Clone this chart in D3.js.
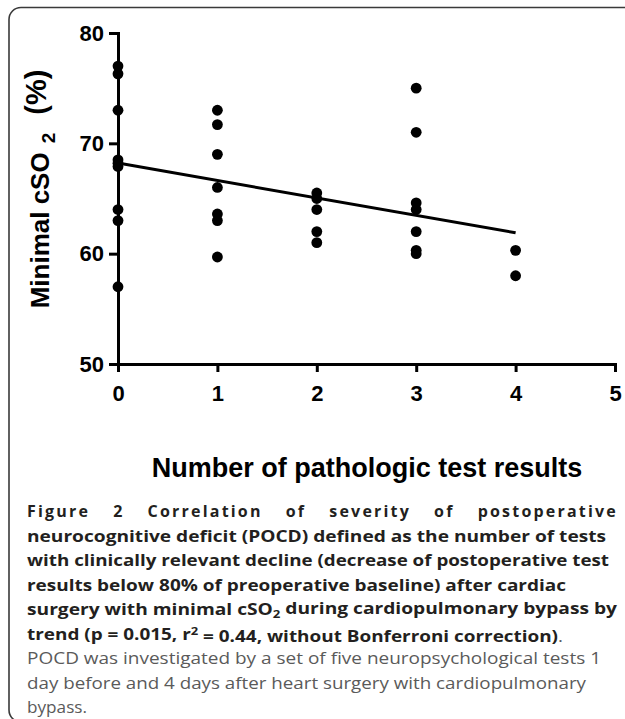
<!DOCTYPE html>
<html>
<meta charset="utf-8">
<head>
<title>minimal cSO2 vs POCD</title>
	<script src="https://d3js.org/d3.v7.min.js"></script>
	<style>
		body { margin: 0; background: #fff; }
		svg { display: block; }
	</style>
</head>

<body>
	<div id="plot"></div>
</body>

<script>

// number of pathologic tests per group and the minimal cSO2 values (%)
var testCounts = [0, 1, 2, 3, 4];
var cso2_0 = [77.0, 76.3, 73.0, 68.5, 68.2, 67.9, 64.0, 63.0, 57.0];
var cso2_1 = [73.0, 71.7, 69.0, 66.0, 63.6, 63.0, 59.7];
var cso2_2 = [65.5, 65.0, 64.0, 62.0, 61.0];
var cso2_3 = [75.0, 71.0, 64.6, 64.0, 62.0, 60.3, 60.0];
var cso2_4 = [60.3, 58.0];
var groups = [cso2_0, cso2_1, cso2_2, cso2_3, cso2_4];

var xTicks = [0, 1, 2, 3, 4, 5];
var yTicks = [50, 60, 70, 80];

// caption lines as they wrap in the figure
var captionLines = [
	[{t: "Figure 2 Correlation of severity of postoperative"}],
	[{t: "neurocognitive deficit (POCD) defined as the number of tests"}],
	[{t: "with clinically relevant decline (decrease of postoperative test"}],
	[{t: "results below 80% of preoperative baseline) after cardiac"}],
	[{t: "surgery with minimal cSO"}, {t: "2", sub: true}, {t: " during cardiopulmonary bypass by"}],
	[{t: "trend (p = 0.015, r"}, {t: "2", sup: true}, {t: " = 0.44, without Bonferroni correction)"}, {t: ".", light: true}],
	[{t: "POCD was investigated by a set of five neuropsychological tests 1", light: true}],
	[{t: "day before and 4 days after heart surgery with cardiopulmonary", light: true}],
	[{t: "bypass.", light: true}]
];
var captionRight = [618, 606, 609, 566, 617, 563, 601, 586, 87];

var points = [];
groups.forEach(function(g, i){
	g.forEach(function(v){ points.push({x: testCounts[i], y: v}); });
});

var width = 625, height = 719;

var svg = d3.select("#plot").append("svg")
		.attr("width", width)
		.attr("height", height);

// frame with rounded left corners
svg.append("path")
	.attr("d", "M626,7.5 H21 A12,12 0 0 0 9,19.5 V710 A12,12 0 0 0 21,722")
	.attr("fill", "none")
	.attr("stroke", "#3a3a3a")
	.attr("stroke-width", 1.6);

var xScale = d3.scaleLinear().domain([0, 5]).range([118, 615]);
var yScale = d3.scaleLinear().domain([50, 80]).range([364, 33]);

var xAxis = d3.axisBottom(xScale).tickValues(xTicks).tickSize(8).tickSizeOuter(0).tickPadding(13).tickFormat(d3.format("d"));
var yAxis = d3.axisLeft(yScale).tickValues(yTicks).tickSize(9).tickSizeOuter(0).tickPadding(5);

var gx = svg.append("g")
	.attr("transform", "translate(0," + yScale(50) + ")")
	.call(xAxis);

var gy = svg.append("g")
	.attr("transform", "translate(" + xScale(0) + ",0)")
	.call(yAxis);

[gx, gy].forEach(function(g){
	g.selectAll("path, line").attr("stroke", "#000").attr("stroke-width", 3);
	g.select(".domain").attr("stroke-linecap", "square");
	g.selectAll("text")
		.attr("fill", "#000")
		.style("font-family", "'Liberation Sans', Arial, sans-serif")
		.style("font-weight", "bold")
		.style("font-size", "22px");
});

// least squares trend line over the data
var mx = d3.mean(points, function(d){ return d.x; });
var my = d3.mean(points, function(d){ return d.y; });
var sxy = d3.sum(points, function(d){ return (d.x - mx) * (d.y - my); });
var sxx = d3.sum(points, function(d){ return (d.x - mx) * (d.x - mx); });
var slope = sxy / sxx;
var intercept = my - slope * mx;
var xMax = d3.max(testCounts);

svg.append("line")
	.attr("x1", xScale(0))
	.attr("y1", yScale(intercept))
	.attr("x2", xScale(xMax))
	.attr("y2", yScale(intercept + slope * xMax))
	.attr("stroke", "#000")
	.attr("stroke-width", 3);

svg.append("g")
	.selectAll(".dot")
	.data(points)
	.enter()
	.append("circle")
	.attr("class", "dot")
	.attr("r", 5.4)
	.attr("cx", function(d){ return xScale(d.x); })
	.attr("cy", function(d){ return yScale(d.y); })
	.attr("fill", "#000");

// axis titles
var yTitle = svg.append("text")
	.attr("transform", "translate(49,189) rotate(-90)")
	.attr("text-anchor", "middle")
	.style("font-family", "'Liberation Sans', Arial, sans-serif")
	.style("font-weight", "bold")
	.style("font-size", "26px");
yTitle.append("tspan").text("Minimal cSO");
yTitle.append("tspan").attr("dx", 9).attr("dy", "0.3em").style("font-size", "19px").text("2");
yTitle.append("tspan").attr("dx", 18).attr("dy", "-0.3em").style("font-size", "29px").text("(%)");

svg.append("text")
	.attr("x", 367)
	.attr("y", 477)
	.attr("text-anchor", "middle")
	.style("font-family", "'Liberation Sans', Arial, sans-serif")
	.style("font-weight", "bold")
	.style("font-size", "27px")
	.text("Number of pathologic test results");

// caption
var capLeft = 27, capTop = 517, capStep = 24.5;
captionLines.forEach(function(parts, i){
	var t = svg.append("text")
		.attr("x", capLeft)
		.attr("y", capTop + i * capStep)
		.style("font-family", "'Open Sans', sans-serif")
		.style("font-size", "16px");
	parts.forEach(function(p, j){
		var s = t.append("tspan").text(p.t)
			.attr("fill", p.light ? "#5a5a5a" : "#231f20")
			.style("font-weight", p.light ? "normal" : "bold");
		if (p.sub) s.attr("dy", "0.3em").style("font-size", "11px");
		if (p.sup) s.attr("dy", "-0.45em").style("font-size", "11px");
		var prev = parts[j - 1];
		if (prev && prev.sub) s.attr("dy", "-0.3em");
		if (prev && prev.sup) s.attr("dy", "0.45em");
	});
	var target = captionRight[i] - capLeft;
	if (i === 0) {
		// justified first line, letter spaced like the original
		t.style("letter-spacing", "2.2px");
		var w = t.node().getComputedTextLength();
		var gaps = parts[0].t.split(" ").length - 1;
		t.attr("word-spacing", (target - w) / gaps);
	} else {
		t.attr("textLength", target).attr("lengthAdjust", "spacingAndGlyphs");
	}
});

</script>
</html>
